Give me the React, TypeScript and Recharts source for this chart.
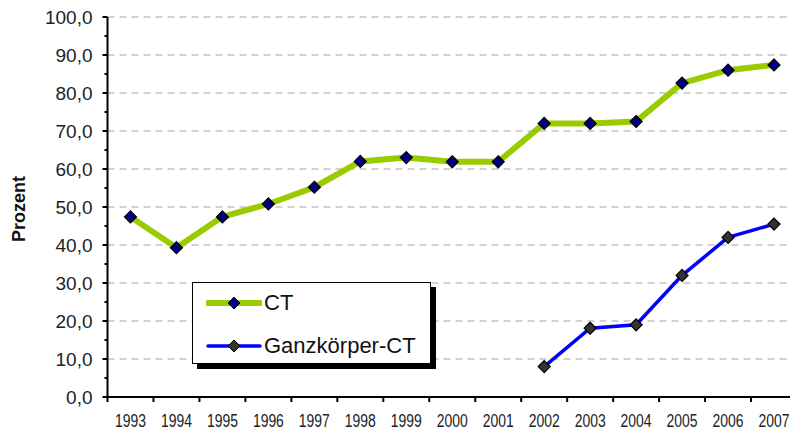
import { Line, LineChart, ReferenceLine, XAxis, YAxis } from 'recharts';

const years = ['1993', '1994', '1995', '1996', '1997', '1998', '1999', '2000', '2001', '2002', '2003', '2004', '2005', '2006', '2007'];
const ctValues = [47.4, 39.3, 47.4, 50.8, 55.2, 62.0, 63.0, 61.9, 61.9, 72.0, 72.0, 72.5, 82.6, 86.0, 87.4];
const ganzValues: (number | null)[] = [null, null, null, null, null, null, null, null, null, 8.0, 18.1, 19.0, 32.0, 42.0, 45.5];
const yTicks = [0, 5, 10, 15, 20, 25, 30, 35, 40, 45, 50, 55, 60, 65, 70, 75, 80, 85, 90, 95, 100];
const gridValues = [10, 20, 30, 40, 50, 60, 70, 80, 90, 100];
const xBounds = [0, 1, 2, 3, 4, 5, 6, 7, 8, 9, 10, 11, 12, 13, 14, 15];

const W = 800;
const H = 432;
const M = { top: 17, right: 3, bottom: 0, left: 0 };
const X_H = 35;
const Y_W = 107.5;
const BAND = (W - M.left - M.right - Y_W) / years.length;
const FONT = '"Liberation Sans", Arial, sans-serif';

const series = [
  { key: 'ct', name: 'CT', color: '#99cc00', width: 6, dot: '#000080' },
  { key: 'ganz', name: 'Ganzkörper-CT', color: '#0000ff', width: 3.5, dot: '#333333' },
];

const data = years.map((y, i) => ({ x: i + 0.5, year: y, ct: ctValues[i], ganz: ganzValues[i] }));

const diamond = (fill: string) => (p: any) => {
  const { cx, cy, index } = p;
  if (cx == null || cy == null || p.value == null) return <g key={index} />;
  const r = 6;
  return (
    <polygon
      key={index}
      points={`${cx},${cy - r} ${cx + r},${cy} ${cx},${cy + r} ${cx - r},${cy}`}
      fill={fill}
      stroke="#000"
      strokeWidth={1.2}
    />
  );
};

function XTick(p: any) {
  const { x, y, payload } = p;
  const v = payload.value as number;
  return (
    <g>
      <line x1={x} y1={y} x2={x} y2={y + 5} stroke="#000" strokeWidth={2} />
      {v < years.length && (
        <text
          x={x + BAND / 2}
          y={y + 30}
          textAnchor="middle"
          fontSize={18}
          fontFamily={FONT}
          fill="#222"
          textLength={31}
          lengthAdjust="spacingAndGlyphs"
        >
          {years[v]}
        </text>
      )}
    </g>
  );
}

function YTick(p: any) {
  const { x, y, payload } = p;
  const v = payload.value as number;
  const major = v % 10 === 0;
  return (
    <g>
      <line x1={x - (major ? 5 : 3)} y1={y} x2={x} y2={y} stroke="#000" strokeWidth={2} />
      {major && (
        <text x={x - 15} y={y} dy="0.36em" textAnchor="end" fontSize={19} fontFamily={FONT} fill="#222">
          {v.toFixed(1).replace('.', ',')}
        </text>
      )}
    </g>
  );
}

function LegendBox() {
  return (
    <div
      style={{
        position: 'absolute',
        left: 192,
        top: 282,
        width: 237,
        height: 80,
        border: '1.5px solid #000',
        background: '#fff',
        boxShadow: '5px 5px 0 #000',
        fontFamily: FONT,
        fontSize: 22,
        color: '#111',
      }}
    >
      {series.map((s, i) => (
        <div key={s.key} style={{ position: 'absolute', left: 13, top: 6 + i * 43, height: 28, display: 'flex', alignItems: 'center' }}>
          <svg width={56} height={16}>
            <line x1={2} y1={8} x2={54} y2={8} stroke={s.color} strokeWidth={s.width} strokeLinecap="round" />
            <polygon points="28,2 34,8 28,14 22,8" fill={s.dot} stroke="#000" strokeWidth={1} />
          </svg>
          <span style={{ marginLeft: 2, lineHeight: '28px' }}>{s.name}</span>
        </div>
      ))}
    </div>
  );
}

export default function App() {
  return (
    <div style={{ position: 'absolute', left: 0, top: 0, width: 790, height: H, overflow: 'hidden', background: '#fff' }}>
      <LineChart width={W} height={H} data={data} margin={M}>
        {gridValues.map((v) => (
          <ReferenceLine key={v} y={v} stroke="#c4c4c4" strokeWidth={1.5} strokeDasharray="7 5" />
        ))}
        <XAxis
          type="number"
          dataKey="x"
          domain={[0, years.length]}
          ticks={xBounds}
          interval={0}
          tickSize={0}
          tickMargin={0}
          tick={<XTick />}
          axisLine={{ stroke: '#000', strokeWidth: 2 }}
          tickLine={false}
          height={X_H}
        />
        <YAxis
          type="number"
          domain={[0, 100]}
          ticks={yTicks}
          interval={0}
          tickSize={0}
          tickMargin={0}
          tick={<YTick />}
          axisLine={{ stroke: '#000', strokeWidth: 2 }}
          tickLine={false}
          width={Y_W}
          label={{
            content: () => (
              <text
                x={18.5}
                y={209}
                transform="rotate(-90 18.5 209)"
                textAnchor="middle"
                dy="0.36em"
                fontSize={18}
                fontWeight="bold"
                fontFamily={FONT}
                fill="#111"
              >
                Prozent
              </text>
            ),
          }}
        />
        {series.map((s) => (
          <Line
            key={s.key}
            dataKey={s.key}
            name={s.name}
            stroke={s.color}
            strokeWidth={s.width}
            dot={diamond(s.dot)}
            activeDot={false}
            connectNulls={false}
            isAnimationActive={false}
          />
        ))}
      </LineChart>
      <LegendBox />
    </div>
  );
}
